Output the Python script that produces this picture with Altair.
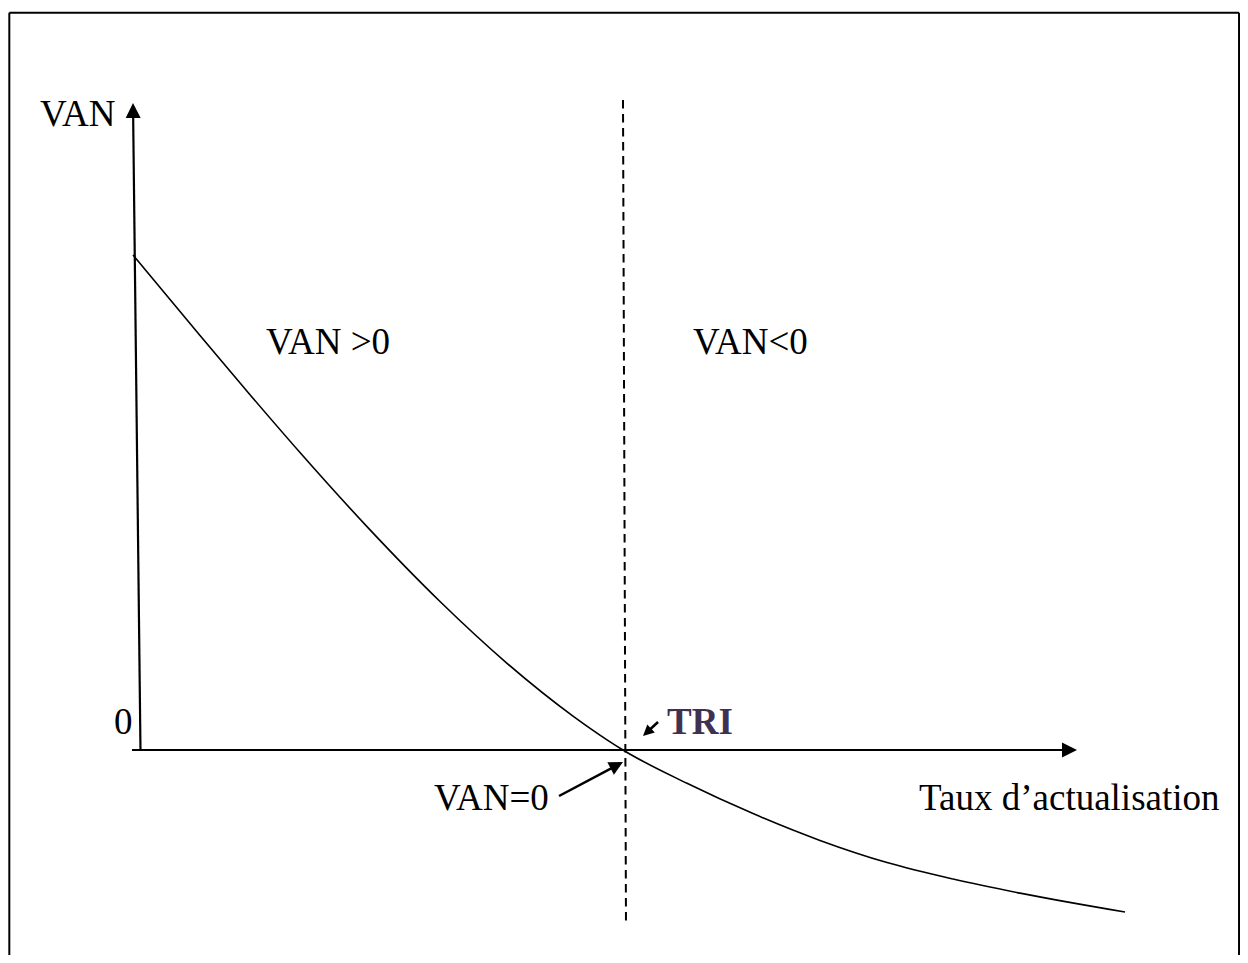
import altair as alt
import pandas as pd

# ---- NPV curve (taux d'actualisation in %, VAN in arbitrary units) ----
taux = [0, 1.362, 2.378, 3.394, 4.756, 6.240, 7.602, 8.943, 9.634,
        9.959, 11.260, 12.602, 13.963, 15.325, 16.667, 18.028, 20.163]
van = [100, 83.74, 71.78, 60.10, 45.13, 30.00, 17.52, 6.85, 2.06,
       0, -6.73, -12.85, -18.26, -22.73, -26.06, -28.91, -32.73]

# ---- straight segments ----
frame_x = [-2.514, -2.514, 22.48]
frame_y = [-41.414, 148.95, 148.95]
frame_x2 = [-2.514, 22.48, 22.48]
frame_y2 = [148.95, 148.95, -41.414]

axis_x = [0.152, -0.020]
axis_y = [0, 0]
axis_x2 = [0.003, 18.943]
axis_y2 = [128.08, 0]

tri_line_x = [9.959]
tri_line_y = [131.31]
tri_line_x2 = [10.020]
tri_line_y2 = [-35.35]

stem_x = [8.659, 10.671]
stem_y = [-9.29, 5.66]
stem_x2 = [9.748, 10.484]
stem_y2 = [-3.56, 3.94]

# ---- arrow heads ----
head_x = [19.187, 0.0, 9.959, 10.366]
head_y = [0, 130.71, -2.42, 2.83]
head_angle = [90, 359.3, 62, 227]
head_size = [900, 900, 784, 484]

# ---- labels ----
label_text = ["VAN", "VAN >0", "VAN<0", "0", "VAN=0", "Taux d\u2019actualisation"]
label_x = [-1.890, 2.704, 11.382, -0.386, 6.118, 15.976]
label_y = [126.06, 80.0, 80.0, 3.23, -12.12, -12.12]

tri_text = ["TRI"]
tri_x = [10.854]
tri_y = [3.23]

xs = alt.Scale(domain=[-2.5407, 22.4997], nice=False, zero=False)
ys = alt.Scale(domain=[-41.414, 149.899], nice=False, zero=False)


def seg_layer(xv, yv, x2v, y2v, **mark_kw):
    df = pd.DataFrame({"x": xv, "y": yv, "x2": x2v, "y2": y2v})
    return alt.Chart(df).mark_rule(color="black", **mark_kw).encode(
        x=alt.X("x:Q", scale=xs, axis=None),
        y=alt.Y("y:Q", scale=ys, axis=None),
        x2="x2:Q",
        y2="y2:Q",
    )


frame = seg_layer(frame_x, frame_y, frame_x2, frame_y2, strokeWidth=2)
axes = seg_layer(axis_x, axis_y, axis_x2, axis_y2, strokeWidth=2.2)
dashed = seg_layer(tri_line_x, tri_line_y, tri_line_x2, tri_line_y2,
                   strokeWidth=2, strokeDash=[8.5, 5.5])
stems = seg_layer(stem_x, stem_y, stem_x2, stem_y2, strokeWidth=2.5)

curve = alt.Chart(pd.DataFrame({"taux": taux, "van": van})).mark_line(
    color="black", strokeWidth=1.6, interpolate="monotone"
).encode(
    x=alt.X("taux:Q", scale=xs, axis=None),
    y=alt.Y("van:Q", scale=ys, axis=None),
)

heads = alt.Chart(pd.DataFrame({
    "x": head_x, "y": head_y, "angle": head_angle, "size": head_size
})).mark_point(
    shape="M0,0L-0.5,1L0.5,1Z", filled=True, color="black", opacity=1, strokeWidth=0
).encode(
    x=alt.X("x:Q", scale=xs, axis=None),
    y=alt.Y("y:Q", scale=ys, axis=None),
    angle=alt.Angle("angle:Q", scale=None),
    size=alt.Size("size:Q", scale=None),
)

labels = alt.Chart(pd.DataFrame({
    "t": label_text, "x": label_x, "y": label_y
})).mark_text(
    font="Liberation Serif", fontSize=37, align="left", baseline="alphabetic",
    color="black"
).encode(
    x=alt.X("x:Q", scale=xs, axis=None),
    y=alt.Y("y:Q", scale=ys, axis=None),
    text="t:N",
)

tri = alt.Chart(pd.DataFrame({"t": tri_text, "x": tri_x, "y": tri_y})).mark_text(
    font="Liberation Serif", fontSize=37, fontWeight="bold", align="left",
    baseline="alphabetic", color="#3F3151"
).encode(
    x=alt.X("x:Q", scale=xs, axis=None),
    y=alt.Y("y:Q", scale=ys, axis=None),
    text="t:N",
)

chart = alt.layer(frame, axes, dashed, stems, curve, heads, labels, tri).properties(
    width=1232, height=947, padding=0, autosize=alt.AutoSizeParams(type="none"),
    background="white"
).configure_view(stroke=None)

chart.save("out.html", embed_options={"renderer": "svg", "actions": False})
